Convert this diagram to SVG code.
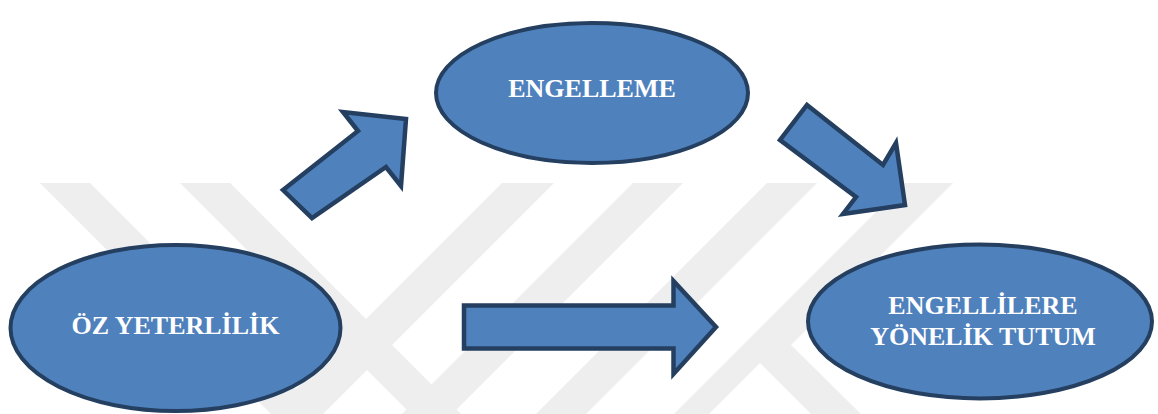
<svg xmlns="http://www.w3.org/2000/svg" width="1158" height="414" viewBox="0 0 1158 414">
<style>
.wm{fill:#eeeeee;stroke:none}
.node{fill:#4f81bd;stroke:#243f60;stroke-width:4}
.arrow{fill:#4f81bd;stroke:#243f60;stroke-width:4.5;stroke-linejoin:miter}
.lbl{font-family:"Liberation Serif","Times New Roman",serif;font-weight:bold;font-size:26px;fill:#ffffff;text-anchor:middle}
</style>
<rect width="1158" height="414" fill="#ffffff"/>
<g id="watermark">
<polygon class="wm" points="40,183 90,183 321,414 271,414"/>
<polygon class="wm" points="180,183 230,183 461,414 411,414"/>
<polygon class="wm" points="502,183 554,183 323,414 271,414"/>
<polygon class="wm" points="633,183 683,183 452,414 402,414"/>
<polygon class="wm" points="767,183 817,183 586,414 536,414"/>
<polygon class="wm" points="905,183 953,183 791,345 861,414 811,414 760,363 709,414 674,414"/>
</g>
<g id="connectors">
<polygon class="arrow" points="283,190 358,131 343,112 406,119 401,186 386,167 312,218"/>
<polygon class="arrow" points="807,105 883,165 896,143 905,205 843,214 856,197 780,140"/>
<polygon class="arrow" points="464,305.5 673.5,305.5 673.5,281 716,327 673.5,374 673.5,348.5 464,348.5"/>
</g>
<g id="node-engelleme">
<ellipse class="node" cx="592" cy="93" rx="156" ry="70"/>
<text class="lbl" x="592" y="97">ENGELLEME</text>
</g>
<g id="node-oz-yeterlilik">
<ellipse class="node" cx="175.5" cy="328" rx="165" ry="83"/>
<text class="lbl" x="175.5" y="334">ÖZ YETERLİLİK</text>
</g>
<g id="node-tutum">
<ellipse class="node" cx="980" cy="321.5" rx="172" ry="77"/>
<text class="lbl" x="983" y="314">ENGELLİLERE</text>
<text class="lbl" x="983" y="345">YÖNELİK TUTUM</text>
</g>
</svg>
